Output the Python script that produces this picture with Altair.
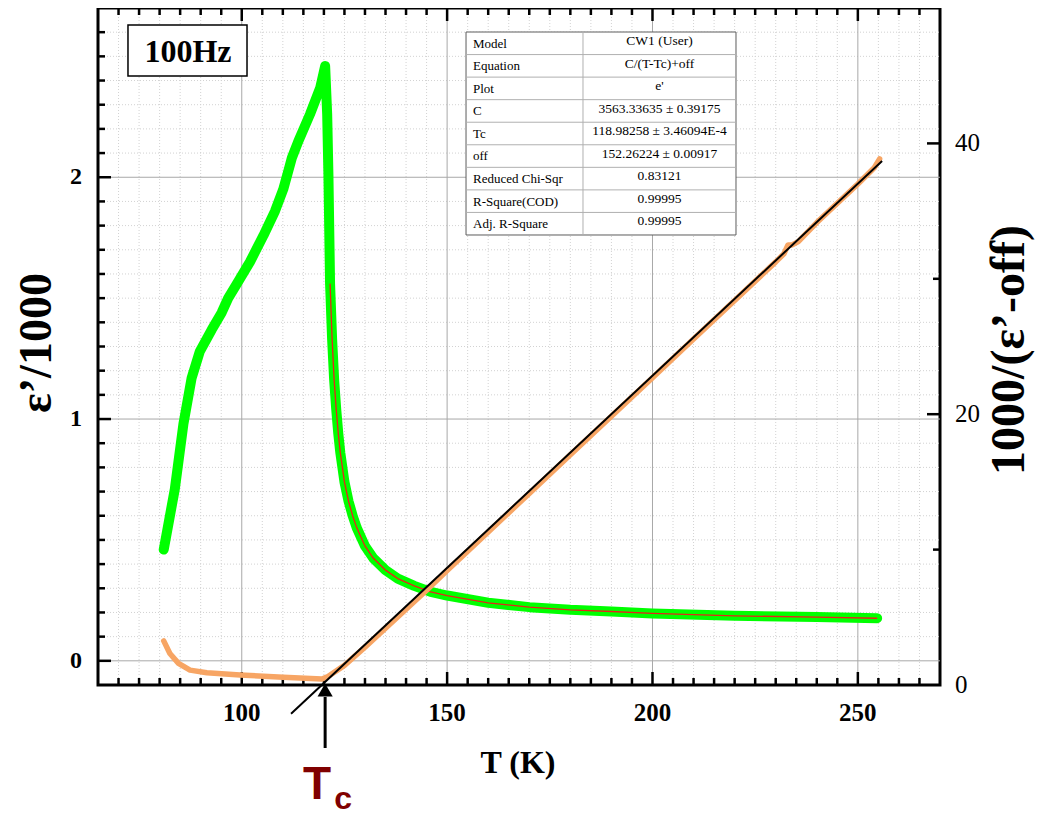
import altair as alt
import pandas as pd

# ---------------- data ----------------
# eps'/1000 (left axis) : rising part below Tc and Curie-Weiss decay above Tc
rise_T = [81.0, 83.7, 85.8, 87.8, 89.8, 92.7, 95.1, 96.7, 99.2, 102.0, 105.3, 108.1,
          110.1, 111.4, 112.2, 113.8, 116.6, 119.1, 120.3, 120.8, 121.1]
rise_val = [0.46, 0.71, 0.98, 1.17, 1.28, 1.37, 1.44, 1.50, 1.57, 1.65, 1.76, 1.86,
            1.95, 2.03, 2.08, 2.15, 2.26, 2.37, 2.46, 2.26, 2.01]
decay_T = [121.5, 122.0, 122.5, 123.0, 123.5, 124.0, 125.0, 126.0, 127.0, 128.0, 130.0,
           132.0, 135.0, 138.0, 142.0, 146.0, 150.0, 160.0, 170.0, 180.0, 190.0, 200.0,
           220.0, 240.0, 254.7]
decay_val = [1.56, 1.33, 1.16, 1.04, 0.94, 0.86, 0.74, 0.66, 0.60, 0.55, 0.475,
             0.425, 0.375, 0.34, 0.31, 0.285, 0.27, 0.24, 0.222, 0.211, 0.204, 0.196,
             0.186, 0.181, 0.176]

# 1000/(eps'-off) (right axis)
inv_T = [81.0, 82.5, 84.6, 87.4, 91.5, 99.6, 110.1, 119.5, 121.0, 125.0, 130.0, 135.0,
         140.0, 145.0, 150.0, 160.0, 170.0, 180.0, 190.0, 200.0, 210.0, 220.0, 230.0,
         232.0, 233.0, 234.0, 235.5, 240.0, 250.0, 254.0, 255.3]
inv_val = [3.26, 2.33, 1.60, 1.10, 0.90, 0.74, 0.57, 0.44, 0.62, 1.45, 2.80, 4.20,
           5.60, 7.00, 8.45, 11.30, 14.15, 17.00, 19.85, 22.70, 25.55, 28.40, 31.25,
           31.85, 32.50, 32.50, 32.75, 34.15, 37.00, 38.20, 38.85]

# straight Curie-Weiss line
line_T = [112.0, 255.9]
line_val = [-2.13, 38.7]

tc_T = [120.3]

x_major = [100, 150, 200, 250]
yl_major = [0, 1, 2]
yr_labels = [0, 20, 40]

table_keys = ["Model", "Equation", "Plot", "C", "Tc", "off",
              "Reduced Chi-Sqr", "R-Square(COD)", "Adj. R-Square"]
table_vals = ["CW1 (User)", "C/(T-Tc)+off", "e'", "3563.33635 \u00b1 0.39175",
              "118.98258 \u00b1 3.46094E-4", "152.26224 \u00b1 0.00917",
              "0.83121", "0.99995", "0.99995"]

# ---------------- layout ----------------
W, H = 842, 677
SERIF = "Liberation Serif"
SANS = "Liberation Sans"
PX_Y = 241.79  # px per unit of eps'/1000

xs = alt.Scale(domain=[65, 270], nice=False, zero=False)
yl = alt.Scale(domain=[-0.1, 2.7], nice=False, zero=False)
yr = alt.Scale(domain=[0, 50], nice=False, zero=False)

x_minor = [t for t in range(70, 270, 5) if t not in x_major]
yl_minor = [round(-0.1 + 0.1 * k, 1) for k in range(1, 28)]
yl_minor = [v for v in yl_minor if v not in (0.0, 1.0, 2.0)]


def df(**cols):
    return pd.DataFrame(cols)


def Xq(field="T"):
    return alt.X(f"{field}:Q", scale=xs, axis=None)


def vrule(vals, y0, y1, **mk):
    return alt.Chart(df(T=vals)).mark_rule(**mk).encode(
        x=Xq(), y=alt.value(y0), y2=alt.value(y1))


def hrule(vals, scale, x0, x1, **mk):
    return alt.Chart(df(v=vals)).mark_rule(**mk).encode(
        y=alt.Y("v:Q", scale=scale, axis=None), x=alt.value(x0), x2=alt.value(x1))


minor_grid = dict(color="#d2d2d2", strokeWidth=1, strokeDash=[1, 2])
major_grid = dict(color="#a8a8a8", strokeWidth=1)
tick_style = dict(color="black", strokeWidth=2.5)

# ---------------- tick labels (text through the scales) ----------------
x_labels = alt.Chart(df(T=x_major, s=[str(v) for v in x_major])).mark_text(
    font=SERIF, fontWeight="bold", fontSize=25, color="black",
    align="center", baseline="alphabetic").encode(
    x=Xq(), y=alt.value(H + 36), text="s:N")
yl_labels = alt.Chart(df(v=yl_major, s=[str(v) for v in yl_major])).mark_text(
    font=SERIF, fontWeight="bold", fontSize=24, color="black",
    align="right", baseline="middle").encode(
    x=alt.value(-16), y=alt.Y("v:Q", scale=yl, axis=None), text="s:N")
yr_text = alt.Chart(df(v=yr_labels, s=[str(v) for v in yr_labels])).mark_text(
    font=SERIF, fontWeight="normal", fontSize=25, color="black",
    align="left", baseline="middle").encode(
    x=alt.value(W + 15), y=alt.Y("v:Q", scale=yr, axis=None), text="s:N")

# ---------------- left-axis layers ----------------
green = alt.Chart(df(T=rise_T + decay_T, v=rise_val + decay_val,
                     i=list(range(len(rise_T) + len(decay_T))))).mark_line(
    color="#00ff00", strokeWidth=10, strokeCap="round", strokeJoin="round").encode(
    x=Xq(), y=alt.Y("v:Q", scale=yl, axis=None), order="i:Q")

red = alt.Chart(df(T=decay_T, v=decay_val, i=list(range(len(decay_T))))).mark_line(
    color="#e8231a", strokeWidth=1.3).encode(
    x=Xq(), y=alt.Y("v:Q", scale=yl, axis=None), order="i:Q")

# "100Hz" box (data coordinates)
box = alt.Chart(df(a=[72.3], b=[101.28], t=[2.6297], u=[2.4188])).mark_rect(
    fill="white", stroke="black", strokeWidth=1.5).encode(
    x=Xq("a"), x2="b:Q", y=alt.Y("t:Q", scale=yl, axis=None), y2="u:Q")
box_text = alt.Chart(df(T=[86.9], v=[2.4767], s=["100Hz"])).mark_text(
    font=SERIF, fontWeight="bold", fontSize=32, color="black",
    align="center", baseline="alphabetic").encode(
    x=Xq(), y=alt.Y("v:Q", scale=yl, axis=None), text="s:N")

# fit table (data coordinates)
T0, TDIV, T1 = 154.6, 183.08, 220.33
TOP, BOT = 2.6007, 1.7612
RH = (TOP - BOT) / len(table_keys)
tops = [TOP - i * RH for i in range(len(table_keys))]
tab = df(key=table_keys, val=table_vals,
         yk=[t - 15.7 / PX_Y for t in tops], yv=[t - 13.0 / PX_Y for t in tops],
         xk=[156.3] * len(tops), xv=[201.7] * len(tops))

tab_rect = alt.Chart(df(a=[T0], b=[T1], t=[TOP], u=[BOT])).mark_rect(
    fill="white", stroke="#5c5c5c", strokeWidth=1).encode(
    x=Xq("a"), x2="b:Q", y=alt.Y("t:Q", scale=yl, axis=None), y2="u:Q")
tab_rows = alt.Chart(df(a=[T0] * 8, b=[T1] * 8, v=tops[1:])).mark_rule(
    color="#b0b0b0", strokeWidth=1).encode(
    x=Xq("a"), x2="b:Q", y=alt.Y("v:Q", scale=yl, axis=None))
tab_div = alt.Chart(df(T=[TDIV], t=[TOP], u=[BOT])).mark_rule(
    color="#b0b0b0", strokeWidth=1).encode(
    x=Xq(), y=alt.Y("t:Q", scale=yl, axis=None), y2="u:Q")
tab_keys = alt.Chart(tab).mark_text(font=SERIF, fontSize=13, color="black",
                                    align="left", baseline="alphabetic").encode(
    x=Xq("xk"), y=alt.Y("yk:Q", scale=yl, axis=None), text="key:N")
tab_vals = alt.Chart(tab).mark_text(font=SERIF, fontSize=13.5, color="black",
                                    align="center", baseline="alphabetic").encode(
    x=Xq("xv"), y=alt.Y("yv:Q", scale=yl, axis=None), text="val:N")

left = alt.layer(
    vrule(x_minor, 0, H, **minor_grid),
    hrule(yl_minor, yl, 0, W, **minor_grid),
    vrule(x_major, 0, H, **major_grid),
    hrule(yl_major, yl, 0, W, **major_grid),
    green, red,
    box, box_text,
    tab_rect, tab_rows, tab_div, tab_keys, tab_vals,
    vrule(x_major, H, H - 13, **tick_style),
    vrule(x_minor, H, H - 7, **tick_style),
    vrule(x_major, 0, 13, **tick_style),
    vrule(x_minor, 0, 7, **tick_style),
    hrule(yl_major, yl, 0, 13, **tick_style),
    hrule(yl_minor, yl, 0, 7, **tick_style),
    x_labels, yl_labels,
)

# ---------------- right-axis layers ----------------
orange = alt.Chart(df(T=inv_T, v=inv_val, i=list(range(len(inv_T))))).mark_line(
    color="#f7a564", strokeWidth=5.5, strokeCap="round", strokeJoin="round").encode(
    x=Xq(), y=alt.Y("v:Q", scale=yr, axis=None), order="i:Q")

black = alt.Chart(df(T=line_T, v=line_val)).mark_line(
    color="black", strokeWidth=2).encode(
    x=Xq(), y=alt.Y("v:Q", scale=yr, axis=None))

arrow = alt.Chart(df(T=tc_T)).mark_rule(color="black", strokeWidth=3).encode(
    x=Xq(), y=alt.value(H + 12), y2=alt.value(H + 63))
arrow_head = alt.Chart(df(T=tc_T)).mark_point(
    shape="triangle-up", filled=True, fill="black", stroke="black",
    strokeWidth=0, size=230, opacity=1).encode(
    x=Xq(), y=alt.value(H + 5))
tc_big = alt.Chart(df(T=tc_T, s=["T"])).mark_text(
    font=SANS, fontWeight="bold", fontSize=46, color="#800000",
    align="center", baseline="alphabetic", dx=-8).encode(
    x=Xq(), y=alt.value(H + 114), text="s:N")
tc_sub = alt.Chart(df(T=tc_T, s=["c"])).mark_text(
    font=SANS, fontWeight="bold", fontSize=32, color="#800000",
    align="left", baseline="alphabetic", dx=9).encode(
    x=Xq(), y=alt.value(H + 124), text="s:N")


def title(txt, x, y, size, angle=0, baseline="middle"):
    mk = dict(font=SERIF, fontWeight="bold", fontSize=size, color="black",
              align="center", baseline=baseline)
    if angle:
        mk["angle"] = angle
    return alt.Chart(df(s=[txt])).mark_text(**mk).encode(
        x=alt.value(x), y=alt.value(y), text="s:N")


right = alt.layer(
    orange, black,
    hrule([20, 40], yr, W, W - 13, **tick_style),
    hrule([10, 30], yr, W, W - 7, **tick_style),
    yr_text,
    arrow, arrow_head, tc_big, tc_sub,
    title("\u03b5\u2019/1000", -61, 335, 46, angle=270),
    title("1000/(\u03b5\u2019-off)", 912, 342, 48, angle=270),
    title("T (K)", 420, 765, 32, baseline="alphabetic"),
)

chart = alt.layer(left, right).resolve_scale(y="independent").properties(
    width=W, height=H,
    padding={"left": 90, "top": 0, "right": 96, "bottom": 133},
    autosize=alt.AutoSizeParams(type="none"),
    background="white",
).configure_view(stroke="black", strokeWidth=3)

chart.save("out.html", embed_options={"renderer": "svg", "actions": False})
